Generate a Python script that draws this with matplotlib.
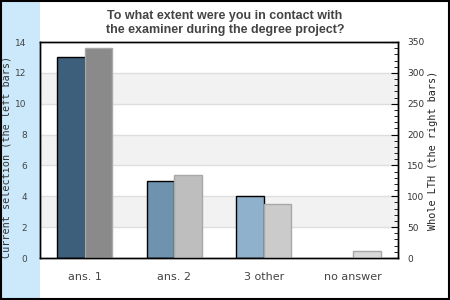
import matplotlib.pyplot as plt
import numpy as np
from matplotlib.patches import Rectangle
from matplotlib.ticker import MultipleLocator

categories = ['ans. 1', 'ans. 2', '3 other', 'no answer']
current = [13, 5, 4, 0]
whole_lth = [340, 135, 88, 12]

left_colors = ['#3e5f7c', '#6f93af', '#8fb1cc', '#b0c8dc']
right_colors = ['#8a8a8a', '#bebebe', '#cbcbcb', '#d9d9d9']

fig = plt.figure(figsize=(4.5, 3), dpi=100)
fig.patches.append(Rectangle((0.004, 0.004), 0.085, 0.992, transform=fig.transFigure,
                             facecolor='#cce9fc', edgecolor='none', zorder=-1))
fig.patches.append(Rectangle((0.002, 0.003), 0.995, 0.994, transform=fig.transFigure,
                             facecolor='none', edgecolor='black', lw=1.5, zorder=5))

ax = fig.add_axes([40 / 450, 42 / 300, 358 / 450, 216 / 300])
ax2 = ax.twinx()

pos = np.arange(len(categories))
w = 0.31

# alternating bands + grid
for lo in [2, 6, 10]:
    ax.axhspan(lo, lo + 2, color='#f2f2f2', zorder=0, lw=0)
for y in range(2, 14, 2):
    ax.axhline(y, color='#dedede', lw=1, zorder=0.5)

for i in range(len(categories)):
    if current[i] > 0:
        ax.bar(pos[i] - w / 2, current[i], width=w, color=left_colors[i],
               edgecolor='black', linewidth=1, zorder=2)
    ax2.bar(pos[i] + w / 2, whole_lth[i], width=w, color=right_colors[i],
            edgecolor='#a8a8a8', linewidth=1, zorder=2)

ax.set_xlim(-0.5, 3.5)
ax.set_ylim(0, 14)
ax2.set_ylim(0, 350)
ax.set_yticks(range(0, 15, 2))
ax.tick_params(axis='y', length=0, labelsize=6.5, labelcolor='#444444', pad=9.5)
ax.set_xticks(pos)
ax.set_xticklabels(categories)
ax.tick_params(axis='x', length=0, labelsize=8, labelcolor='#444444', pad=10)

ax2.yaxis.set_major_locator(MultipleLocator(50))
ax2.yaxis.set_minor_locator(MultipleLocator(10))
ax2.tick_params(axis='y', which='major', direction='in', length=5, labelsize=6.5,
                labelcolor='#333333', pad=6.5)
ax2.tick_params(axis='y', which='minor', direction='in', length=3)

for a in (ax, ax2):
    for s in a.spines.values():
        s.set_color('black')
        s.set_linewidth(1)

ax.set_ylabel('Current selection (the left bars)', family='DejaVu Sans Mono',
              fontsize=7.3, color='#333333')
ax.yaxis.set_label_coords(-28 / 358, 0.47)
ax2.set_ylabel('Whole LTH (the right bars)', family='DejaVu Sans Mono',
               fontsize=7.3, color='#222222')
ax2.yaxis.set_label_coords(1 + 30 / 358, 0.5)

fig.text(0.5, 0.965, 'To what extent were you in contact with\nthe examiner during the degree project?',
         ha='center', va='top', fontsize=9, fontweight='bold', color='#444444',
         family='Liberation Sans', linespacing=1.2)

fig.savefig('out.png', dpi=100)
